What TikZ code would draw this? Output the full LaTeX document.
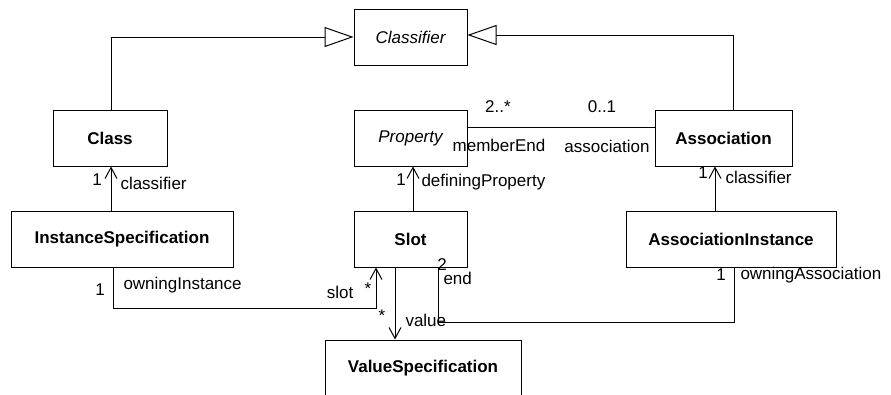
\documentclass[tikz,border=0pt]{standalone}
\usepackage{fontspec}
\setmainfont{Liberation Sans}
\usetikzlibrary{arrows.meta}
\begin{document}
\begin{tikzpicture}[x=1pt,y=-1pt,line width=1pt,>={Straight Barb[length=11pt,width=12pt]},
  cls/.style={draw,rectangle,minimum height=56pt,inner sep=0pt,font=\fontsize{17}{20}\selectfont\bfseries},
  abscls/.style={cls,font=\fontsize{17}{20}\selectfont\itshape},
  lbl/.style={inner sep=0pt,font=\fontsize{17}{20}\selectfont},
  gen/.style={-{Triangle[open,length=29pt,width=20pt]}}]
\useasboundingbox (0,0) rectangle (891,394);
% classes
\node[abscls,minimum width=113pt] (classifier) at (410.5,37) {Classifier};
\node[cls,minimum width=114pt] (class) at (110,138) {Class};
\node[abscls,minimum width=113pt] (property) at (410.5,138) {Property};
\node[cls,minimum width=137pt] (assoc) at (723.5,138) {Association};
\node[cls,minimum width=222pt] (inst) at (122,239) {InstanceSpecification};
\node[cls,minimum width=113pt] (slot) at (410.5,239) {Slot};
\node[cls,minimum width=210pt] (associnst) at (731,239) {AssociationInstance};
\node[cls,minimum width=196pt] (valspec) at (423,368) {ValueSpecification};
% generalizations
\draw[gen] ([xshift=1pt]class.north) |- (classifier.west);
\draw[gen] ([xshift=9.5pt]assoc.north) |- ([yshift=2pt]classifier.east);
% associations
\draw ([yshift=11pt]property.east) -- ([yshift=11pt]assoc.west);
\draw[->] ([xshift=-11pt]inst.north) -- ([xshift=1pt]class.south);
\draw[->] ([xshift=2.5pt]slot.north) -- ([xshift=2.5pt]property.south);
\draw[->] ([xshift=-16pt]associnst.north) -- ([xshift=-8.5pt]assoc.south);
\draw[->] ([xshift=-9pt]inst.south) -- ++(0,41) -| ([xshift=-34.5pt]slot.south);
\draw[->] ([xshift=-15.5pt]slot.south) -- ([xshift=-28pt]valspec.north);
\draw ([xshift=3pt]associnst.south) -- ++(0,55) -| ([xshift=27.5pt]slot.south);
% ends
\node[lbl] (m1) at (498,107) {2..*};
\node[lbl] (m2) at (602,107) {0..1};
\node[lbl] (r1) at (499,145) {memberEnd};
\node[lbl] (r2) at (607,146) {association};
\node[lbl] (m3) at (97,180) {1};
\node[lbl,anchor=west] (r3) at (120,183) {classifier};
\node[lbl] (m4) at (401,180) {1};
\node[lbl,anchor=west] (r4) at (421,182) {definingProperty};
\node[lbl] (m5) at (703,173) {1};
\node[lbl,anchor=west] (r5) at (725,177) {classifier};
\node[lbl] (m6) at (100,290) {1};
\node[lbl,anchor=west] (r6) at (123,285) {owningInstance};
\node[lbl] (r7) at (340,292) {slot};
\node[lbl] (m7) at (368,289) {*};
\node[lbl] (m8) at (382,316) {*};
\node[lbl,anchor=west] (r8) at (405,320) {value};
\node[lbl] (m9) at (442,265) {2};
\node[lbl,anchor=west] (r9) at (443,278) {end};
\node[lbl] (m10) at (721,275) {1};
\node[lbl,anchor=west] (r10) at (740,275) {owningAssociation};
\end{tikzpicture}
\end{document}
